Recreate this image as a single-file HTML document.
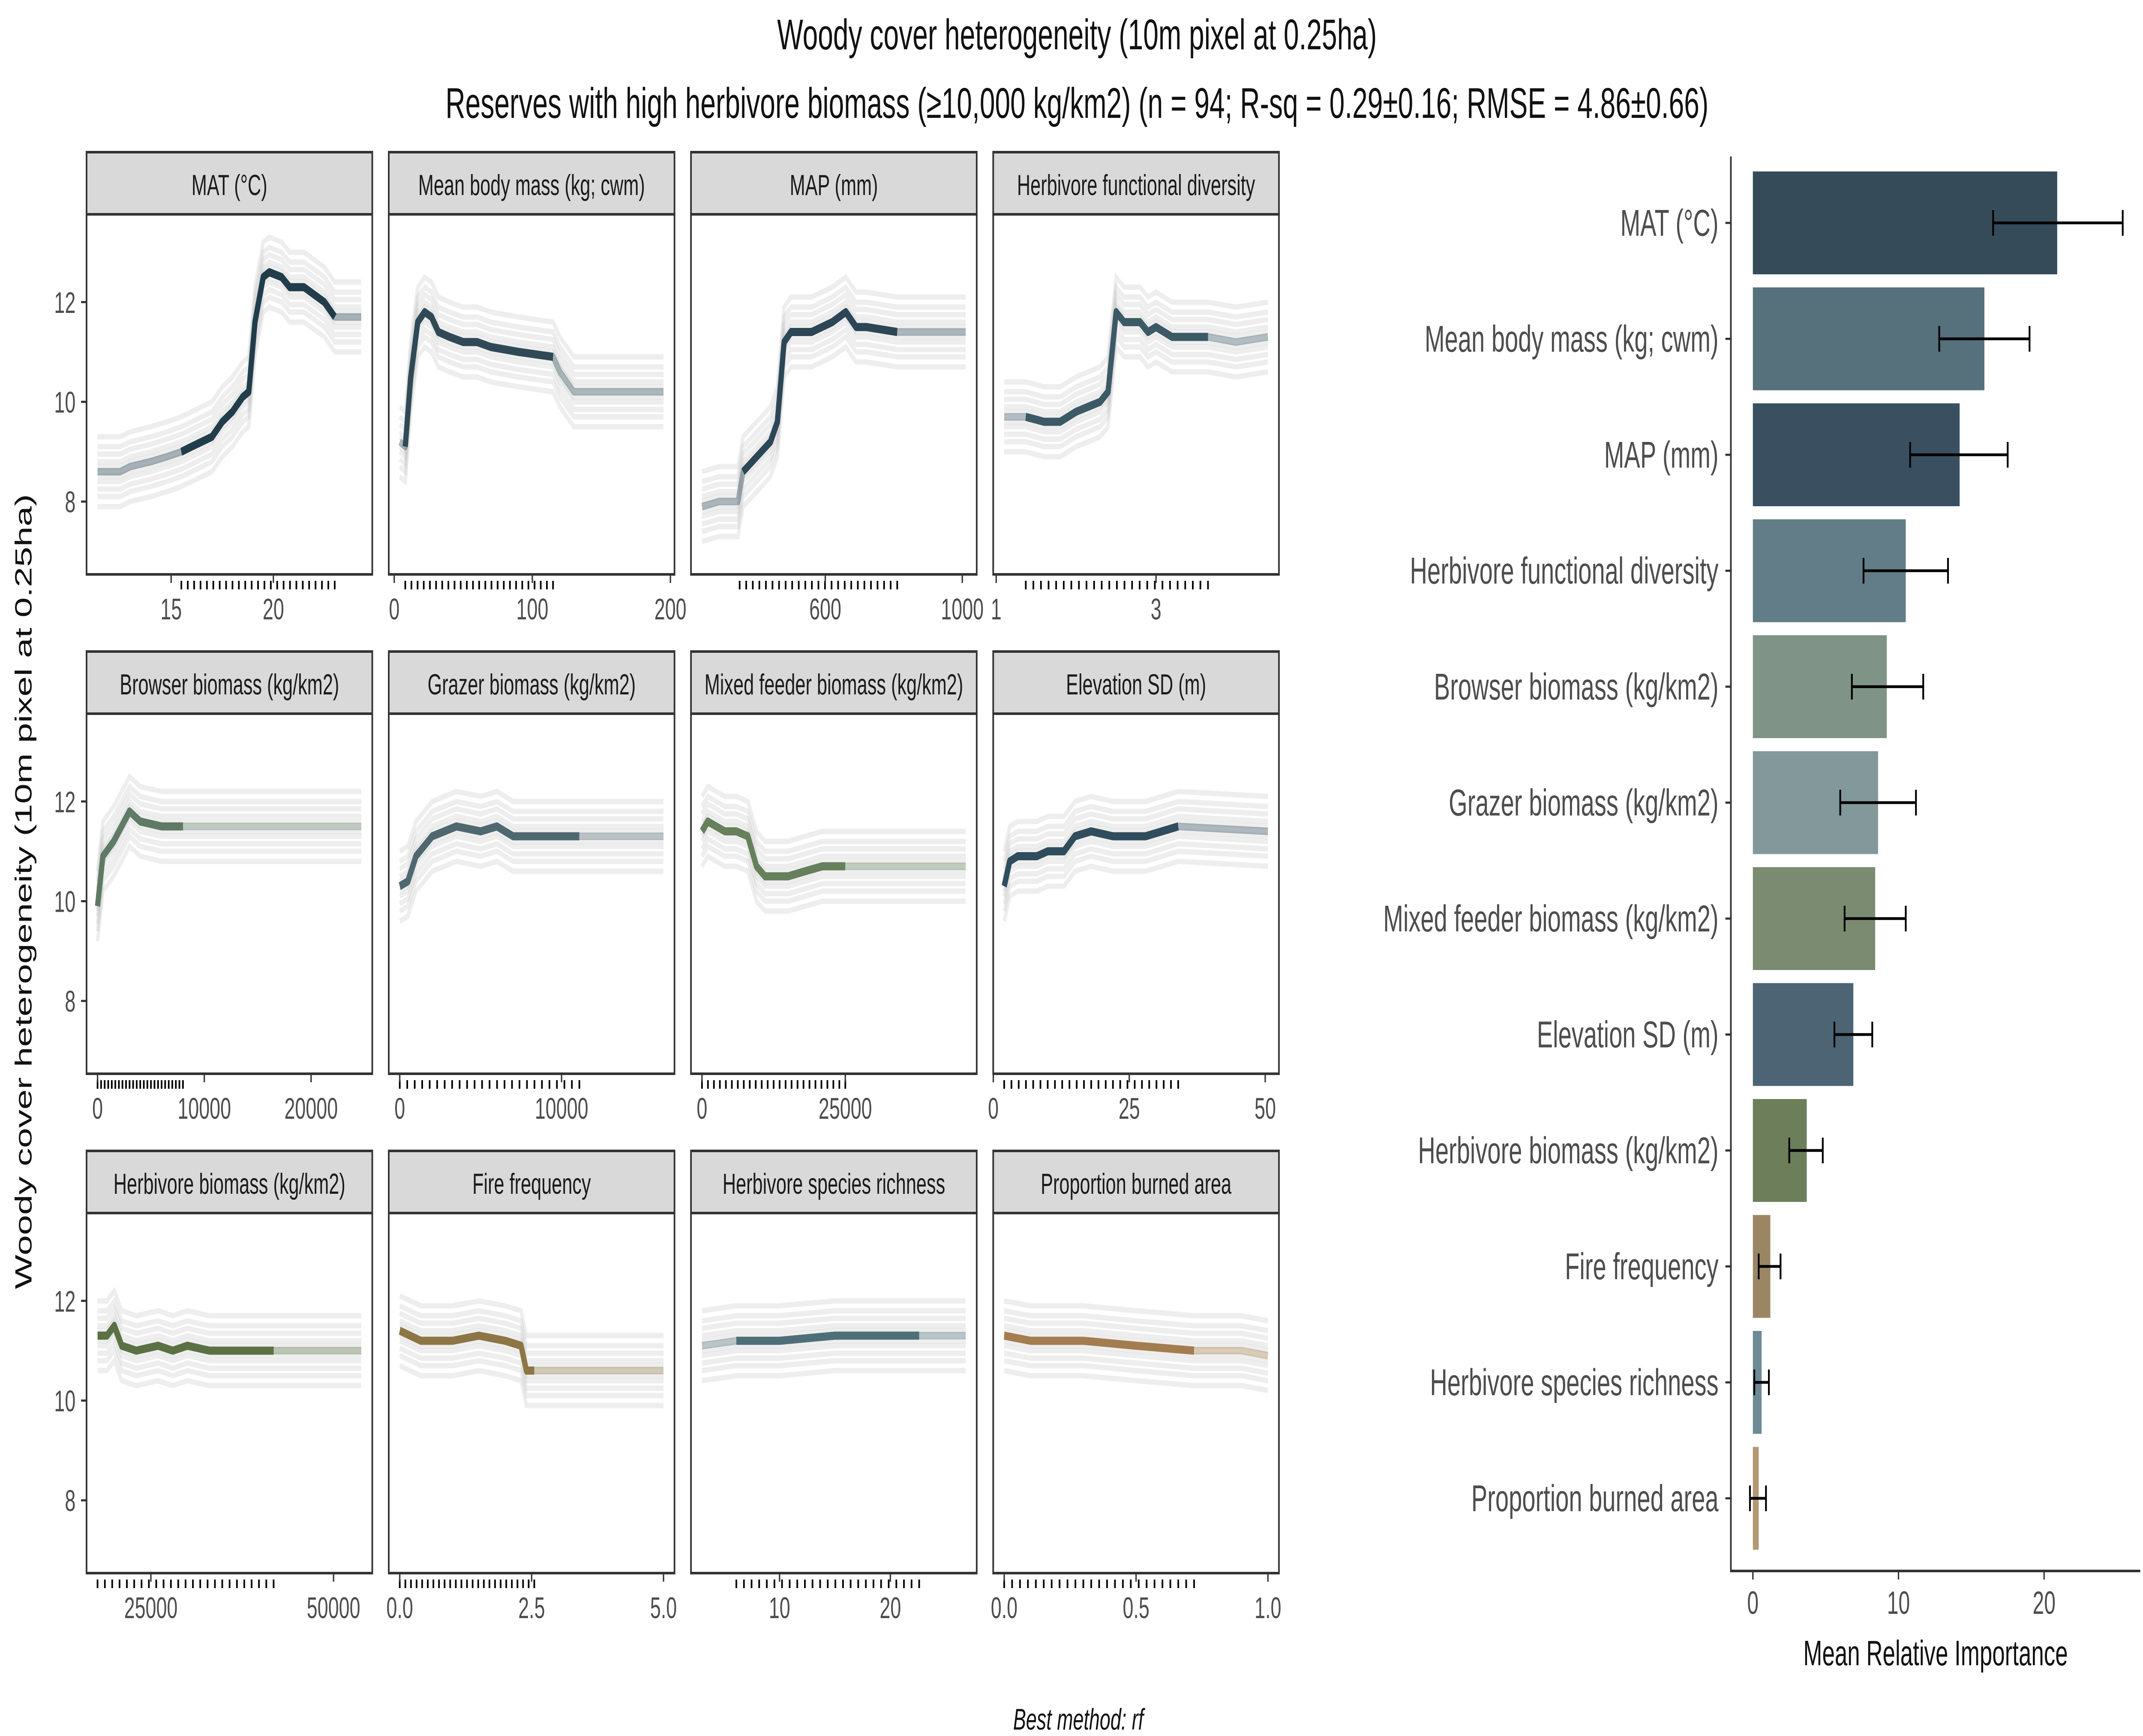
<!DOCTYPE html>
<html><head><meta charset="utf-8"><style>
html,body{margin:0;padding:0;background:#fff;width:100%;height:100%;overflow:hidden;}
svg{display:block;width:100vw;height:100vh;}
text{font-family:"Liberation Sans",sans-serif;}
</style></head><body>
<svg id="chart" viewBox="0 0 1560 810" preserveAspectRatio="none" xmlns="http://www.w3.org/2000/svg">
<rect width="1560" height="810" fill="#fff"/>
<text x="784" y="23" text-anchor="middle" font-size="20" fill="#111">Woody cover heterogeneity (10m pixel at 0.25ha)</text>
<text x="784" y="55" text-anchor="middle" font-size="20" fill="#111">Reserves with high herbivore biomass (≥10,000 kg/km2) (n = 94; R-sq = 0.29±0.16; RMSE = 4.86±0.66)</text>
<text transform="translate(23,416) rotate(-90)" text-anchor="middle" font-size="17" fill="#111">Woody cover heterogeneity (10m pixel at 0.25ha)</text>
<text x="785" y="807" text-anchor="middle" font-size="14" font-style="italic" fill="#111">Best method: rf</text>
<g id="panels"></g>
<g id="bars"></g>
</svg>
<script>
const NS="http://www.w3.org/2000/svg";
// ---------- partial dependence panels ----------
const panelNames=["MAT (°C)","Mean body mass (kg; cwm)","MAP (mm)","Herbivore functional diversity","Browser biomass (kg/km2)","Grazer biomass (kg/km2)","Mixed feeder biomass (kg/km2)","Elevation SD (m)","Herbivore biomass (kg/km2)","Fire frequency","Herbivore species richness","Proportion burned area"];
const panelColors=["#213d4b","#2f4a56","#2c4656","#3b5a66","#5f7a66","#4f6870","#65805b","#2f4d5c","#5b7143","#8c7645","#4e6f77","#a37c50"];
const panelDomains=[[11.4,24.3],[4,195],[240,1010],[1.1,4.4],[0,24700],[0,16300],[0,46000],[2,50.5],[17700,53800],[0,5],[3,26.8],[0,1]];
const darkRanges=[[15.5,23],[8,115],[350,810],[1.37,3.65],[0,8000],[0,11100],[0,25000],[2,34],[17700,41800],[0,2.55],[6.1,22.6],[0,0.72]];
const xTicks=[[15,20],[0,100,200],[600,1000],[1,3],[0,10000,20000],[0,10000],[0,25000],[0,25,50],[25000,50000],[0,2.5,5],[10,20],[0,0.5,1]];
const xTickLabels=[["15","20"],["0","100","200"],["600","1000"],["1","3"],["0","10000","20000"],["0","10000"],["0","25000"],["0","25","50"],["25000","50000"],["0.0","2.5","5.0"],["10","20"],["0.0","0.5","1.0"]];
const curveX=[
[11.4,12.5,13,14,14.8,15.5,16,16.5,17,17.5,18,18.5,18.8,19.1,19.5,19.8,20.4,20.8,21.5,22.5,23,24.3],
[4,8,12,17,22,27,32,40,50,60,70,90,115,120,130,195],
[240,290,345,360,400,440,460,480,500,560,620,660,690,720,810,1010],
[1.1,1.37,1.6,1.8,2.0,2.3,2.4,2.5,2.6,2.8,2.9,3.0,3.2,3.4,3.65,4.0,4.4],
[0,500,1500,2500,3000,4000,6000,8000,24700],
[0,500,1000,2000,3500,5000,6000,7000,10000,11100,16300],
[0,1000,2500,4000,6000,8000,9500,11000,15000,18000,21000,25000,46000],
[2,3,4.5,8,10,13,15,18,22,25,28,34,50.5],
[17700,19000,20000,21000,23000,26000,28000,30000,33000,36000,41800,53800],
[0,0.4,1.0,1.5,2.0,2.3,2.4,2.55,5],
[3,6.1,10,15,20,22.6,26.8],
[0,0.1,0.3,0.5,0.72,0.9,1.0]];
const curveY=[
[8.6,8.6,8.7,8.8,8.9,9.0,9.1,9.2,9.3,9.6,9.8,10.1,10.2,11.6,12.5,12.6,12.5,12.3,12.3,12.0,11.7,11.7],
[9.2,9.1,10.5,11.6,11.8,11.7,11.4,11.3,11.2,11.2,11.1,11.0,10.9,10.6,10.2,10.2],
[7.9,8.0,8.0,8.6,8.9,9.2,9.6,11.2,11.4,11.4,11.6,11.8,11.5,11.5,11.4,11.4],
[9.7,9.7,9.6,9.6,9.8,10.0,10.2,11.8,11.6,11.6,11.4,11.5,11.3,11.3,11.3,11.2,11.3],
[9.9,10.9,11.2,11.6,11.8,11.6,11.5,11.5,11.5],
[10.3,10.4,10.9,11.3,11.5,11.4,11.5,11.3,11.3,11.3,11.3],
[11.4,11.6,11.5,11.4,11.4,11.3,10.7,10.5,10.5,10.6,10.7,10.7,10.7],
[10.3,10.8,10.9,10.9,11.0,11.0,11.3,11.4,11.3,11.3,11.3,11.5,11.4],
[11.3,11.3,11.5,11.1,11.0,11.1,11.0,11.1,11.0,11.0,11.0,11.0],
[11.4,11.2,11.2,11.3,11.2,11.1,10.6,10.6,10.6],
[11.1,11.2,11.2,11.3,11.3,11.3,11.3],
[11.3,11.2,11.2,11.1,11.0,11.0,10.9]];
const yTicks=[8,10,12];
const iceOffsets=[-0.7,-0.5,-0.35,-0.2,-0.1,0.1,0.2,0.35,0.5,0.7];

const colLeft=[63,283,503,723], rowTop=[71,304,537], PW=208, STRIP=29, PH=168;
const Y0=6.54, Y1=13.76;
const gp=document.getElementById('panels');
function mk(tag,attrs,parent){const e=document.createElementNS(NS,tag);for(const k in attrs)e.setAttribute(k,attrs[k]);parent.appendChild(e);return e;}

panelNames.forEach((name,i)=>{
  const L=colLeft[i%4], T=rowTop[Math.floor(i/4)], PT=T+STRIP, PB=PT+PH;
  const g=mk('g',{},gp);
  
  
  const d=panelDomains[i];
  const sx=v=>L+8+(v-d[0])/(d[1]-d[0])*(PW-16);
  const sy=v=>PB-(v-Y0)/(Y1-Y0)*PH;
  const strip=mk('rect',{x:L,y:T,width:PW,height:STRIP,fill:'#d9d9d9',stroke:'#333','stroke-width':1.2},g);
  
  
  const st=mk('text',{x:L+PW/2,y:T+20,'text-anchor':'middle','font-size':13.5,fill:'#1a1a1a'},g);
  st.textContent=name;
  
  
  const xs=curveX[i], ys=curveY[i];
  const pts=(off)=>xs.map((x,j)=>sx(x).toFixed(1)+','+sy(ys[j]+off).toFixed(1)).join(' ');
  iceOffsets.forEach(o=>{
    const pl=mk('polyline',{points:pts(o),fill:'none',stroke:'#bbb','stroke-opacity':0.25,'stroke-width':2.5},g);
    
    
  });
  const lc=mk('polyline',{points:pts(0),fill:'none',stroke:panelColors[i],'stroke-opacity':0.4,'stroke-width':3.5,'stroke-linejoin':'round'},g);
  
  
  const dr=darkRanges[i];
  const dp=[];
  xs.forEach((x,j)=>{if(x>=dr[0]-1e-9&&x<=dr[1]+1e-9)dp.push(sx(x).toFixed(1)+','+sy(ys[j]).toFixed(1));});
  const dc=mk('polyline',{points:dp.join(' '),fill:'none',stroke:panelColors[i],'stroke-width':3.8,'stroke-linejoin':'round'},g);
  
  
  const fr=mk('rect',{x:L,y:PT,width:PW,height:PH,fill:'none',stroke:'#333','stroke-width':1.2},g);
  
  
  for(let k=0;k<=24;k++){
    const v=dr[0]+(dr[1]-dr[0])*k/24;
    const r=mk('line',{x1:sx(v),x2:sx(v),y1:PB+3,y2:PB+7,stroke:'#000','stroke-width':1.2},g);
    
    
  }
  xTicks[i].forEach((t,k)=>{
    const x=sx(t);
    const tl=mk('line',{x1:x,x2:x,y1:PB,y2:PB+4,stroke:'#333','stroke-width':1},g);
    
    
    const tx=mk('text',{x:x,y:PB+21,'text-anchor':'middle','font-size':14,fill:'#4d4d4d'},g);
    tx.textContent=xTickLabels[i][k];
    
    
  });
  if(i%4===0){
    yTicks.forEach(t=>{
      const y=sy(t);
      const tl=mk('line',{x1:L-4,x2:L,y1:y,y2:y,stroke:'#333','stroke-width':1},g);
      
      
      const tx=mk('text',{x:L-8,y:y+5,'text-anchor':'end','font-size':14,fill:'#4d4d4d'},g);
      tx.textContent=t;
      
      
    });
  }
});

// ---------- importance bar chart ----------
const barLabels=["MAT (°C)","Mean body mass (kg; cwm)","MAP (mm)","Herbivore functional diversity","Browser biomass (kg/km2)","Grazer biomass (kg/km2)","Mixed feeder biomass (kg/km2)","Elevation SD (m)","Herbivore biomass (kg/km2)","Fire frequency","Herbivore species richness","Proportion burned area"];
const barValues=[20.9,15.9,14.2,10.5,9.2,8.6,8.4,6.9,3.7,1.2,0.6,0.4];
const errLow=[16.5,12.8,10.8,7.6,6.8,6.0,6.3,5.6,2.5,0.4,0.1,-0.2];
const errHigh=[25.4,19.0,17.5,13.4,11.7,11.2,10.5,8.2,4.8,1.9,1.1,0.9];
const barColors=["#354b5a","#56707c","#3a5060","#627d88","#7f9487","#82989a","#7a8b71","#4d6475","#6d7f5a","#9b8664","#6d8b94","#b49873"];
const bTicks=[0,10,20];
const gb=document.getElementById('bars');
const bx=v=>1276+v*10.6;
const by=i=>104+i*54.1;
barLabels.forEach((lab,i)=>{
  const r=mk('rect',{x:bx(0),y:by(i)-24,width:bx(barValues[i])-bx(0),height:48,fill:barColors[i]},gb);
  
  
  const e=mk('path',{d:`M${bx(errLow[i])},${by(i)} H${bx(errHigh[i])} M${bx(errLow[i])},${by(i)-6} V${by(i)+6} M${bx(errHigh[i])},${by(i)-6} V${by(i)+6}`,stroke:'#000','stroke-width':1.3,fill:'none'},gb);
  
  
  const t=mk('text',{x:1251,y:by(i)+6,'text-anchor':'end','font-size':17.5,fill:'#4d4d4d'},gb);
  t.textContent=lab;
  
  
  const tk=mk('line',{x1:1256,x2:1260,y1:by(i),y2:by(i),stroke:'#333','stroke-width':1},gb);
  
  
});
const ax=mk('path',{d:'M1260,73 V733 H1558',stroke:'#333','stroke-width':1.2,fill:'none'},gb);


bTicks.forEach(t=>{
  const l=mk('line',{x1:bx(t),x2:bx(t),y1:733,y2:737,stroke:'#333','stroke-width':1},gb);
  
  
  const tx=mk('text',{x:bx(t),y:753,'text-anchor':'middle','font-size':15,fill:'#4d4d4d'},gb);
  tx.textContent=t;
  
  
});
const xt=mk('text',{x:1409,y:777,'text-anchor':'middle','font-size':16.5,fill:'#111'},gb);
xt.textContent='Mean Relative Importance';


</script>
</body></html>
